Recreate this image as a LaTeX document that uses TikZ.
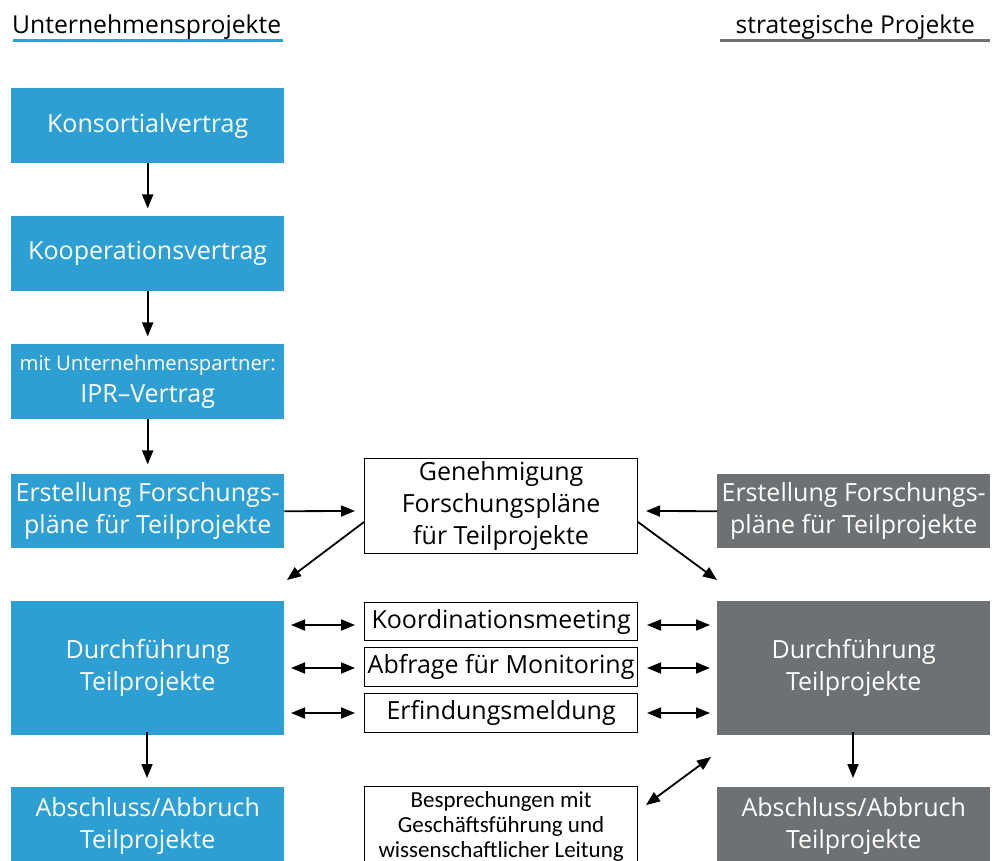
\documentclass[tikz,border=0pt]{standalone}
\usepackage{fontspec}
\setmainfont{Open Sans}
\newfontfamily\calfont{Carlito}
\usetikzlibrary{arrows.meta}
\definecolor{ublue}{HTML}{2E9FD3}
\definecolor{sgray}{HTML}{6E7174}
\begin{document}
\begin{tikzpicture}[x=1pt,y=-1pt,
  box/.style={minimum width=273pt,inner sep=0pt,align=center,text=white,font=\fontsize{25}{32}\selectfont},
  bluebox/.style={box,fill=ublue},
  graybox/.style={box,fill=sgray},
  wbox/.style={draw=black,line width=1.2pt,minimum width=273pt,inner sep=0pt,align=center,font=\fontsize{25}{32}\selectfont},
  arr/.style={-{Triangle[length=14pt,width=11pt]},line width=1.8pt},
  darr/.style={{Triangle[length=14pt,width=11pt]}-{Triangle[length=14pt,width=11pt]},line width=1.8pt}]
\useasboundingbox (0,0) rectangle (993,860);
% headers
\node[anchor=base west,font=\fontsize{24.7}{28}\selectfont,inner sep=0pt] (hl) at (12,33) {Unternehmensprojekte};
\draw[ublue,line width=3pt] (13,40) -- (283,40);
\node[anchor=base east,font=\fontsize{24.6}{28}\selectfont,inner sep=0pt] (hr) at (975,33) {strategische Projekte};
\draw[sgray,line width=3pt] (720,40) -- (990,40);
% left column
\node[bluebox,minimum height=75pt,anchor=north west] (k1) at (11,88) {Konsortialvertrag};
\node[bluebox,minimum height=75pt,anchor=north west] (k2) at (11,216) {Kooperationsvertrag};
\node[bluebox,minimum height=75pt,anchor=north west] (k3) at (11,344) {{\fontsize{20.3}{28}\selectfont mit Unternehmenspartner:}\\IPR--Vertrag};
\node[bluebox,minimum height=74pt,anchor=north west] (el) at (11,474) {Erstellung Forschungs-\\pläne für Teilprojekte};
\node[bluebox,minimum height=134pt,anchor=north west] (dl) at (11,601) {Durchführung\\Teilprojekte};
\node[bluebox,minimum height=78pt,anchor=north west] (al) at (11,787) {Abschluss/Abbruch\\Teilprojekte};
% right column
\node[graybox,minimum height=74pt,anchor=north west] (er) at (717,474) {Erstellung Forschungs-\\pläne für Teilprojekte};
\node[graybox,minimum height=134pt,anchor=north west] (dr) at (717,601) {Durchführung\\Teilprojekte};
\node[graybox,minimum height=78pt,anchor=north west] (ar) at (717,787) {Abschluss/Abbruch\\Teilprojekte};
% middle
\node[wbox,minimum height=95pt,anchor=north west] (g) at (364,458) {Genehmigung\\Forschungspläne\\für Teilprojekte};
\node[wbox,minimum height=38pt,anchor=north west] (m1) at (364,602) {Koordinationsmeeting};
\node[wbox,minimum height=39pt,anchor=north west] (m2) at (364,647) {Abfrage für Monitoring};
\node[wbox,minimum height=39pt,anchor=north west] (m3) at (364,693) {Erfindungsmeldung};
\node[wbox,minimum height=79pt,anchor=north west,font=\calfont\fontsize{23}{25}\selectfont] (b) at (364,786) {Besprechungen mit\\Geschäftsführung und\\wissenschaftlicher Leitung};
% coordinates for arrow ends
\coordinate (gl) at (364,522);
\coordinate (gr) at (638,522);
\coordinate (dlt) at (287,580);
\coordinate (drt) at (717,580);
\coordinate (bs) at (646,805);
\coordinate (be) at (711,757);
\coordinate (dlb) at (147,732);
\coordinate (drb) at (853,732);
% vertical arrows
\draw[arr] (k1.south) -- ++(0,45);
\draw[arr] (k2.south) -- ++(0,45);
\draw[arr] (k3.south) -- ++(0,45);
\draw[arr] (dlb) -- ++(0,46);
\draw[arr] (drb) -- ++(0,46);
% horizontal to Genehmigung
\draw[arr] (el.east) -- (355,511);
\draw[arr] (er.west) -- (646,511);
% diagonals
\draw[arr] (gl) -- (dlt);
\draw[arr] (gr) -- (drt);
% double arrows
\foreach \y in {625,668,713}{
  \draw[darr] (291,\y) -- (355,\y);
  \draw[darr] (647,\y) -- (710,\y);
}
\draw[darr] (bs) -- (be);
\end{tikzpicture}
\end{document}
